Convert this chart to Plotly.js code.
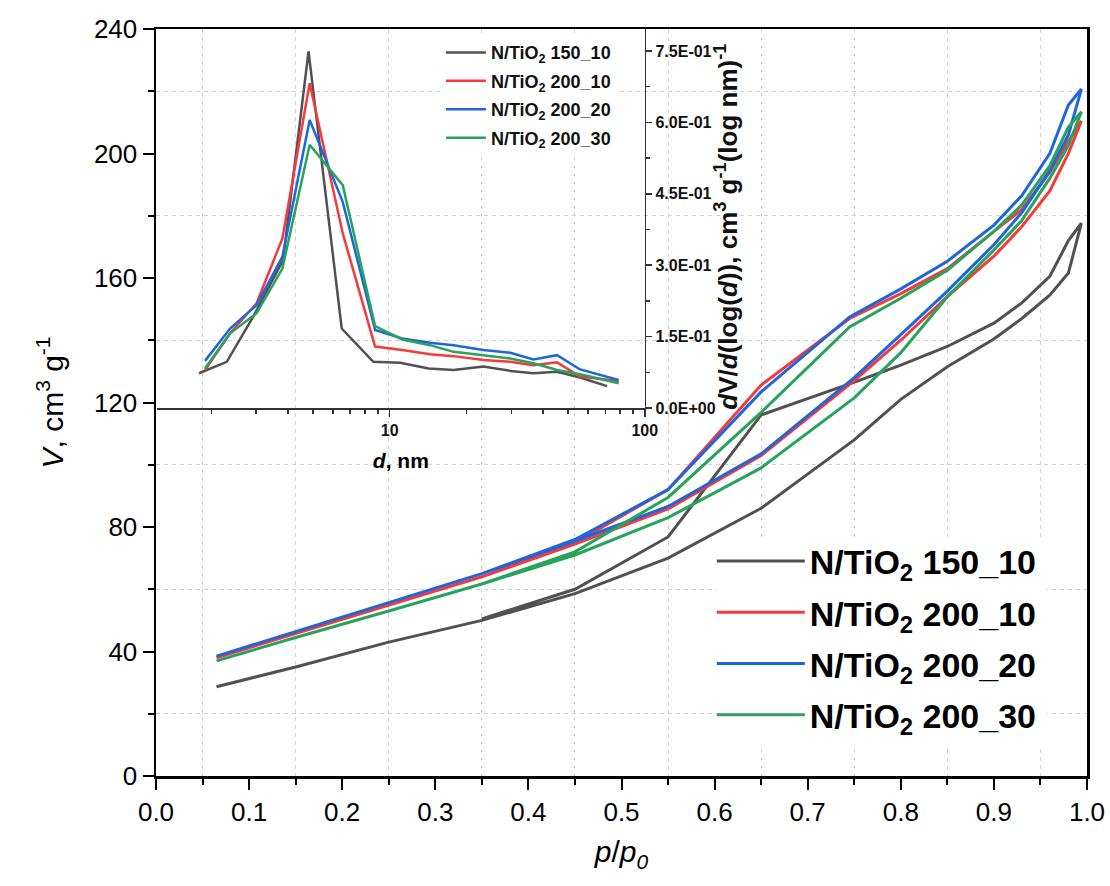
<!DOCTYPE html>
<html>
<head>
<meta charset="utf-8">
<script src="https://cdn.plot.ly/plotly-3.0.1.min.js"></script>
<style>
  html, body { margin: 0; padding: 0; background: #fff; }
  #chart { width: 1110px; height: 886px; }
</style>
</head>
<body>
<div id="chart"></div>
<script>
// ---------- Isotherm data (main plot) ----------
const series_names = ['N/TiO<sub>2</sub> 150_10', 'N/TiO<sub>2</sub> 200_10', 'N/TiO<sub>2</sub> 200_20', 'N/TiO<sub>2</sub> 200_30'];
const series_colors = ['#515151', '#f5393c', '#1e66dc', '#28a35c'];

const p_ads = [0.065, 0.15, 0.25, 0.35, 0.45, 0.55, 0.65, 0.75, 0.80, 0.85, 0.90, 0.93, 0.96, 0.98, 0.994];
const p_des = [0.994, 0.98, 0.96, 0.93, 0.90, 0.85, 0.80, 0.745, 0.65, 0.55, 0.45, 0.35];

const v_ads_150_10 = [28.7, 35.0, 43.0, 50.0, 58.6, 70.0, 86.0, 108.0, 121.0, 131.5, 140.4, 147.0, 154.5, 161.6, 177.6];
const v_des_150_10 = [177.6, 172.0, 160.5, 152.0, 145.5, 138.0, 132.0, 126.0, 116.0, 76.8, 60.0, 50.5];

const v_ads_200_10 = [38.0, 45.8, 55.0, 64.0, 74.5, 85.8, 103.0, 127.0, 140.0, 154.0, 167.0, 176.5, 188.0, 200.0, 210.5];
const v_des_200_10 = [210.5, 204.0, 194.0, 182.0, 175.0, 163.0, 155.0, 147.0, 125.6, 92.0, 75.0, 64.0];

const v_ads_200_20 = [38.5, 46.4, 55.6, 65.0, 75.5, 86.6, 103.5, 128.0, 141.8, 155.8, 170.7, 181.0, 194.5, 206.0, 220.7];
const v_des_200_20 = [220.7, 215.6, 200.0, 186.5, 177.0, 165.4, 156.5, 147.5, 123.4, 92.0, 76.0, 65.0];

const v_ads_200_30 = [37.0, 44.5, 53.0, 61.7, 71.0, 83.0, 99.0, 121.5, 136.0, 154.0, 169.0, 178.5, 192.0, 202.5, 213.4];
const v_des_200_30 = [213.4, 208.5, 196.0, 183.5, 175.0, 162.5, 153.5, 144.3, 116.8, 89.5, 72.0, 61.7];

// ---------- Pore size distribution data (inset) ----------
const d_150_10 = [1.79, 2.30, 2.92, 3.82, 4.81, 6.49, 8.63, 11.0, 14.2, 17.8, 23.3, 29.7, 36.6, 45.3, 55.8, 71.1];
const psd_150_10 = [0.073, 0.097, 0.192, 0.310, 0.749, 0.167, 0.097, 0.095, 0.083, 0.080, 0.087, 0.078, 0.073, 0.076, 0.064, 0.046];

const d_200 = [1.89, 2.37, 3.01, 3.80, 4.86, 6.55, 8.77, 11.2, 14.4, 17.8, 23.3, 29.7, 36.6, 45.3, 55.8, 79.0];
const psd_200_10 = [0.080, 0.157, 0.220, 0.356, 0.682, 0.367, 0.129, 0.122, 0.113, 0.109, 0.101, 0.097, 0.090, 0.096, 0.066, 0.057];
const psd_200_20 = [0.099, 0.167, 0.216, 0.318, 0.605, 0.433, 0.164, 0.146, 0.137, 0.132, 0.122, 0.116, 0.102, 0.111, 0.081, 0.059];
const psd_200_30 = [0.083, 0.157, 0.199, 0.293, 0.553, 0.468, 0.172, 0.144, 0.132, 0.118, 0.111, 0.104, 0.094, 0.080, 0.071, 0.052];

const psd_tick_vals = [0, 0.15, 0.30, 0.45, 0.60, 0.75];
const psd_tick_text = ['0.0E+00', '1.5E-01', '3.0E-01', '4.5E-01', '6.0E-01', '7.5E-01'];

const inset_y_title = '<b><i>d</i>V/<i>d</i>(log(<i>d</i>)), cm<sup>3</sup> g<sup>-1</sup>(log nm)<sup>-1</sup></b>';

// ---------- Build traces ----------
const FONT = '"Liberation Sans", Arial, Helvetica, sans-serif';
const iso = [
  [v_ads_150_10, v_des_150_10],
  [v_ads_200_10, v_des_200_10],
  [v_ads_200_20, v_des_200_20],
  [v_ads_200_30, v_des_200_30]
];
const psd = [
  [d_150_10, psd_150_10],
  [d_200, psd_200_10],
  [d_200, psd_200_20],
  [d_200, psd_200_30]
];

const traces = [];
iso.forEach((s, i) => {
  traces.push({
    type: 'scatter', mode: 'lines',
    x: p_ads.concat(p_des), y: s[0].concat(s[1]),
    name: series_names[i],
    line: {color: series_colors[i], width: 3},
    xaxis: 'x', yaxis: 'y',
    legend: 'legend', legendgroup: 'm' + i,
    hoverinfo: 'skip'
  });
});
psd.forEach((s, i) => {
  traces.push({
    type: 'scatter', mode: 'lines',
    x: s[0], y: s[1],
    name: series_names[i],
    line: {color: series_colors[i], width: 2.5},
    xaxis: 'x2', yaxis: 'y2',
    legend: 'legend2', legendgroup: 'i' + i,
    hoverinfo: 'skip'
  });
});

const gridStyle = {showgrid: true, gridcolor: '#d0d0d0', gridwidth: 1, griddash: '4px,4px'};

const layout = {
  width: 1110, height: 886,
  margin: {l: 156, r: 23, t: 29, b: 110},
  paper_bgcolor: '#ffffff',
  plot_bgcolor: 'rgba(0,0,0,0)',
  font: {family: FONT, color: '#000'},
  showlegend: true,
  xaxis: {
    domain: [0, 1], range: [0, 1], anchor: 'y',
    tick0: 0, dtick: 0.1, tickformat: '.1f',
    showgrid: false, zeroline: false,
    showline: true, linecolor: '#000', linewidth: 2.5, mirror: true,
    ticks: 'outside', ticklen: 11, tickwidth: 2, tickcolor: '#000',
    tickfont: {size: 26, family: FONT, color: '#000'},
    minor: Object.assign({tick0: 0.05, dtick: 0.1, ticks: 'outside', ticklen: 6, tickwidth: 2, tickcolor: '#000'}, gridStyle),
    title: {text: '<i>p</i>/<i>p</i><sub><i>0</i></sub>', font: {size: 30, family: FONT}, standoff: 16}
  },
  yaxis: {
    domain: [0, 1], range: [0, 240], anchor: 'x',
    tick0: 0, dtick: 40,
    showgrid: false, zeroline: false,
    showline: true, linecolor: '#000', linewidth: 2.5, mirror: true,
    ticks: 'outside', ticklen: 11, tickwidth: 2, tickcolor: '#000',
    tickfont: {size: 26, family: FONT, color: '#000'},
    minor: Object.assign({tick0: 20, dtick: 40, ticks: 'outside', ticklen: 6, tickwidth: 2, tickcolor: '#000'}, gridStyle),
    title: {text: '<i>V</i>, cm<sup>3</sup> g<sup>-1</sup>', font: {size: 30, family: FONT}, standoff: 22}
  },
  xaxis2: {
    domain: [0.001, 0.525], anchor: 'y2', type: 'log',
    range: [0.088, 2.0], dtick: 1,
    showgrid: false, zeroline: false,
    showline: true, linecolor: '#333', linewidth: 1.5,
    ticks: 'outside', ticklen: 7, tickwidth: 1.5, tickcolor: '#333',
    tickfont: {size: 16, family: FONT, color: '#111', weight: 'bold'},
    minor: {dtick: 'D1', ticks: 'outside', ticklen: 4, tickwidth: 1.5, tickcolor: '#333', showgrid: false},
    title: {text: '<i>d</i>, nm', font: {size: 21, family: FONT, weight: 'bold'}, standoff: 15}
  },
  yaxis2: {
    domain: [0.4926, 1.0], anchor: 'x2', side: 'right',
    range: [0, 0.796],
    tickmode: 'array', tickvals: psd_tick_vals, ticktext: psd_tick_text,
    showgrid: false, zeroline: false,
    showline: true, linecolor: '#333', linewidth: 1.5,
    ticks: 'outside', ticklen: 6, tickwidth: 1.5, tickcolor: '#333',
    tickfont: {size: 16, family: FONT, color: '#111', weight: 'bold'},
    minor: {tick0: 0.075, dtick: 0.15, ticks: 'outside', ticklen: 4, tickwidth: 1.5, tickcolor: '#333', showgrid: false}
  },
  annotations: [{
    text: inset_y_title, xref: 'paper', yref: 'paper',
    x: 0.613, y: 0.735, xanchor: 'center', yanchor: 'middle',
    textangle: -90, showarrow: false,
    font: {size: 26, family: FONT, color: '#111'}
  }],
  shapes: [{
    // white backing box behind the main legend (hides only the gridlines, not the data)
    type: 'rect', xref: 'x', yref: 'y',
    x0: 0.6026, x1: 0.957, y0: 10.0, y1: 75.8,
    fillcolor: '#ffffff', line: {width: 0}, layer: 'between'
  }],
  legend: {
    x: 0.597, y: 0.326, xanchor: 'left', yanchor: 'top',
    bgcolor: 'rgba(0,0,0,0)', borderwidth: 0,
    font: {size: 34, family: FONT, color: '#000', weight: 'bold'},
    itemwidth: 88, traceorder: 'grouped', tracegroupgap: 4
  },
  legend2: {
    x: 0.306, y: 0.993, xanchor: 'left', yanchor: 'top',
    bgcolor: '#ffffff', borderwidth: 0,
    font: {size: 18, family: FONT, color: '#111', weight: 'bold'},
    itemwidth: 40, traceorder: 'grouped', tracegroupgap: 2
  }
};

Plotly.newPlot('chart', traces, layout, {displayModeBar: false, staticPlot: true});
</script>
</body>
</html>
